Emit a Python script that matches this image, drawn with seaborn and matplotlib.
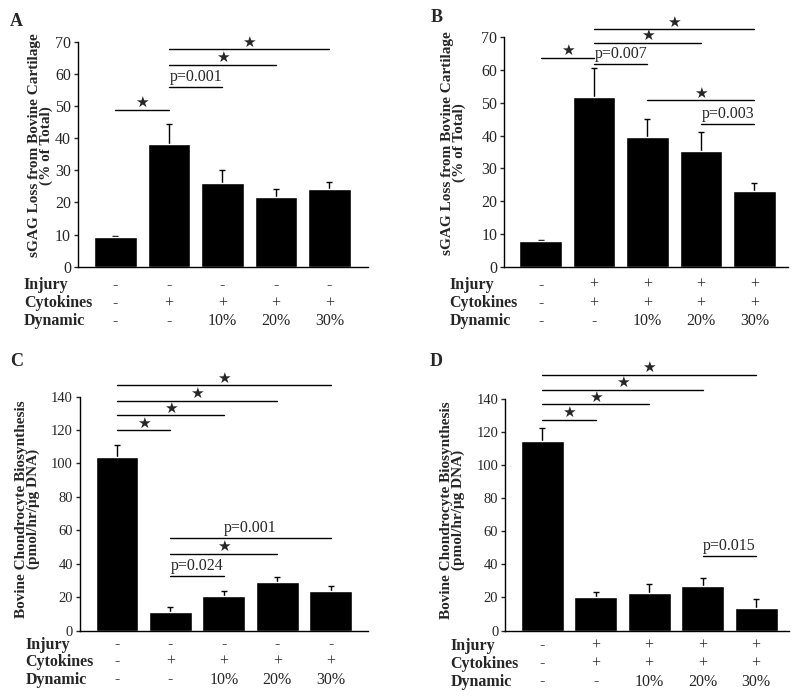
import numpy as np
import seaborn as sns
from matplotlib import pyplot as plt

groups = ["ctrl", "cyt", "dyn10", "dyn20", "dyn30"]

# bar means and upper error (SEM) per panel
a_mean = [9.3, 38.2, 26.0, 21.6, 24.1]
a_sem = [0.2, 6.2, 4.1, 2.6, 2.2]
b_mean = [7.9, 51.7, 39.6, 35.4, 23.1]
b_sem = [0.2, 8.8, 5.4, 5.6, 2.3]
c_mean = [104.1, 11.1, 20.5, 28.9, 23.8]
c_sem = [7.0, 3.2, 3.3, 3.0, 2.7]
d_mean = [115.0, 20.1, 22.9, 27.0, 13.8]
d_sem = [7.5, 3.0, 5.3, 4.8, 5.5]

# treatment table
row_names = ["Injury", "Cytokines", "Dynamic"]
injury_no = ["-", "-", "-", "-", "-"]
injury_yes = ["-", "+", "+", "+", "+"]
cytokines = ["-", "+", "+", "+", "+"]
dynamic = ["-", "-", "10%", "20%", "30%"]

# significance brackets: (from bar, to bar, height, label)
a_sig = [(0, 1, 48.8, "star"), (1, 2, 55.8, "p=0.001"), (1, 3, 62.8, "star"), (1, 4, 67.7, "star")]
b_sig = [(0, 1, 63.7, "star"), (1, 2, 61.7, "p=0.007"), (1, 3, 68.3, "star"), (1, 4, 72.5, "star"),
         (2, 4, 50.8, "star"), (3, 4, 43.4, "p=0.003")]
c_sig = [(0, 1, 119.9, "star"), (0, 2, 128.9, "star"), (0, 3, 137.6, "star"), (0, 4, 147.0, "star"),
         (1, 2, 32.8, "p=0.024"), (1, 3, 46.0, "star"), (1, 4, 55.2, "p=0.001")]
d_sig = [(0, 1, 127.7, "star"), (0, 2, 137.0, "star"), (0, 3, 145.7, "star"), (0, 4, 154.9, "star"),
         (3, 4, 45.1, "p=0.015")]

sgag_label = "sGAG Loss from Bovine Cartilage\n(% of Total)"
bio_label = "Bovine Chondrocyte Biosynthesis\n(pmol/hr/\u03bcg DNA)"

sns.set_theme(style="ticks")
plt.rcParams["font.family"] = ["Liberation Serif", "DejaVu Sans"]

fig = plt.figure(figsize=(8, 6.98), dpi=100)

panels = [
    # letter, rect, xlim, ylim, yticks, tick size, mean, sem, sig, injury, ylabel,
    # label x/y, letter xy, table offsets
    ("A", [0.0975, 0.6179, 0.3625, 0.3223], (-0.70, 4.72), (0, 70), range(0, 71, 10), 11.5,
     a_mean, a_sem, a_sig, injury_no, sgag_label, -0.085, 0.54, (10, 21), (18, 36.5, 54)),
    ("B", [0.6304, 0.6179, 0.3546, 0.3287], (-0.68, 4.63), (0, 70), range(0, 71, 10), 11.5,
     b_mean, b_sem, b_sig, injury_yes, sgag_label, -0.135, 0.54, (431, 18), (18, 36.5, 54)),
    ("C", [0.1000, 0.0967, 0.3596, 0.3350], (-0.69, 4.69), (0, 140), range(0, 141, 20), 10.5,
     c_mean, c_sem, c_sig, injury_no, bio_label, -0.14, 0.52, (10, 361), (14, 31, 49)),
    ("D", [0.6316, 0.0967, 0.3550, 0.3312], (-0.69, 4.62), (0, 140), range(0, 141, 20), 10.5,
     d_mean, d_sem, d_sig, injury_yes, bio_label, -0.142, 0.52, (430, 361), (15, 33, 51)),
]

for (letter, rect, xlim, ylim, yticks, tsize, mean, sem, sig, injury, ylabel,
     labx, laby, lxy, offs) in panels:
    ax = fig.add_axes(rect)
    sns.barplot(x=groups, y=mean, color="black", saturation=1, width=0.8,
                errorbar=None, ax=ax, zorder=2)
    # error bars sit behind the bars so only the upper half shows
    ax.errorbar(np.arange(len(mean)), mean, yerr=sem, fmt="none", ecolor="black",
                elinewidth=1, capsize=2.3, capthick=1, zorder=1)
    ax.set_xlim(*xlim)
    ax.set_ylim(*ylim)
    ax.set_yticks(list(yticks))
    ax.set_xticks([])
    ax.tick_params(axis="y", direction="out", length=3, width=1, labelsize=tsize, pad=2)
    for s in ["top", "right"]:
        ax.spines[s].set_visible(False)
    for s in ["left", "bottom"]:
        ax.spines[s].set_linewidth(1)
        ax.spines[s].set_color("black")
    ax.set_ylabel(ylabel, fontsize=11, fontweight="bold", linespacing=0.85)
    ax.yaxis.set_label_coords(labx, laby)

    for i, j, y, lab in sig:
        ax.plot([i, j], [y, y], color="black", lw=1, clip_on=False)
        mid = (i + j) / 2
        if lab == "star":
            ax.annotate("\u2605", xy=(mid, y), xytext=(0, 7), textcoords="offset pixels",
                        ha="center", va="center", fontsize=11, family="DejaVu Sans",
                        annotation_clip=False)
        else:
            ax.annotate(lab, xy=(mid, y), xytext=(0, 2), textcoords="offset pixels",
                        ha="center", va="bottom", fontsize=11.5, annotation_clip=False)

    trans = ax.get_xaxis_transform()
    for name, vals, off in zip(row_names, [injury, cytokines, dynamic], offs):
        ax.annotate(name, xy=(-1.71, 0), xycoords=trans, xytext=(0, -off),
                    textcoords="offset pixels", ha="left", va="center",
                    fontsize=11.5, fontweight="bold", annotation_clip=False)
        for k, v in enumerate(vals):
            ax.annotate(v, xy=(k, 0), xycoords=trans, xytext=(0, -off),
                        textcoords="offset pixels", ha="center", va="center",
                        fontsize=11.5, annotation_clip=False)

    fig.text(lxy[0] / 800, 1 - lxy[1] / 698, letter, fontsize=13, fontweight="bold",
             ha="left", va="center")

fig.savefig("out.png", dpi=100)
